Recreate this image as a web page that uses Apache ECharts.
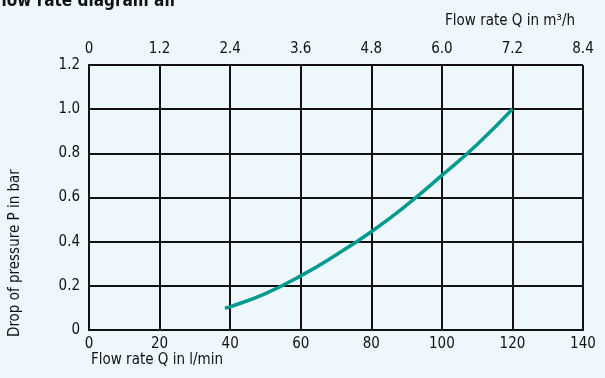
<!DOCTYPE html>
<html><head><meta charset="utf-8">
<script src="https://cdn.jsdelivr.net/npm/echarts@6/dist/echarts.min.js"></script>
<style>html,body{margin:0;padding:0;background:#EEF7FC;}#c{width:605px;height:378px;}</style>
</head><body><div id="c"></div>
<script>
const flowLmin = [38.5, 40, 50, 60, 70, 80, 90, 100, 110, 120];
const pressureBar = [0.10, 0.105, 0.165, 0.245, 0.34, 0.445, 0.565, 0.70, 0.84, 1.0];
const bottomTicks = [0, 20, 40, 60, 80, 100, 120, 140];
const topTicks = ['0', '1.2', '2.4', '3.6', '4.8', '6.0', '7.2', '8.4'];
const yTicks = ['0', '0.2', '0.4', '0.6', '0.8', '1.0', '1.2'];

const FONT = '"Liberation Sans Narrow","DejaVu Sans Condensed",sans-serif';
const ink = '#111';
const chart = echarts.init(document.getElementById('c'));
chart.setOption({
  backgroundColor: '#EEF7FC',
  animation: false,
  grid: {left: 89, right: 22, top: 65, bottom: 48, containLabel: false},
  graphic: [
    {type: 'text', left: -9, top: -7, style: {text: 'Flow rate diagram all', font: 'bold 17px ' + FONT, fill: ink}},
    {type: 'text', right: 30, top: 14, style: {text: 'Flow rate Q in m³/h', font: '15px ' + FONT, fill: ink}},
    {type: 'text', left: 91, top: 353, style: {text: 'Flow rate Q in l/min', font: '15px ' + FONT, fill: ink}},
    {type: 'text', x: 8, y: 337, rotation: Math.PI / 2, style: {text: 'Drop of pressure P in bar', font: '15px ' + FONT, fill: ink, align: 'left', verticalAlign: 'top'}}
  ],
  xAxis: [
    {type: 'value', position: 'bottom', min: 0, max: 140, interval: 20,
     axisLine: {show: true, lineStyle: {color: ink, width: 2}}, axisTick: {show: false},
     axisLabel: {color: ink, fontSize: 15, fontFamily: FONT, margin: 7,
       formatter: v => bottomTicks.indexOf(v) >= 0 ? String(v) : ''},
     splitLine: {show: true, lineStyle: {color: ink, width: 2}}},
    {type: 'value', position: 'top', min: 0, max: 8.4, interval: 1.2,
     axisLine: {show: true, lineStyle: {color: ink, width: 2}}, axisTick: {show: false},
     axisLabel: {color: ink, fontSize: 15, fontFamily: FONT, margin: 8,
       formatter: v => topTicks[Math.round(v / 1.2)]},
     splitLine: {show: false}}
  ],
  yAxis: [
    {type: 'value', min: 0, max: 1.2, interval: 0.2,
     axisLine: {show: true, lineStyle: {color: ink, width: 2}}, axisTick: {show: false},
     axisLabel: {color: ink, fontSize: 15, fontFamily: FONT, margin: 9,
       formatter: v => yTicks[Math.round(v / 0.2)]},
     splitLine: {show: true, lineStyle: {color: ink, width: 2}}},
    {type: 'value', min: 0, max: 1.2, interval: 0.2, position: 'right',
     axisLine: {show: true, lineStyle: {color: ink, width: 2}}, axisTick: {show: false},
     axisLabel: {show: false}, splitLine: {show: false}}
  ],
  series: [{
    type: 'line', xAxisIndex: 0, yAxisIndex: 0, smooth: true, symbol: 'none',
    lineStyle: {color: '#009B8E', width: 3.5},
    data: flowLmin.map((x, i) => [x, pressureBar[i]])
  }]
});
</script></body></html>
